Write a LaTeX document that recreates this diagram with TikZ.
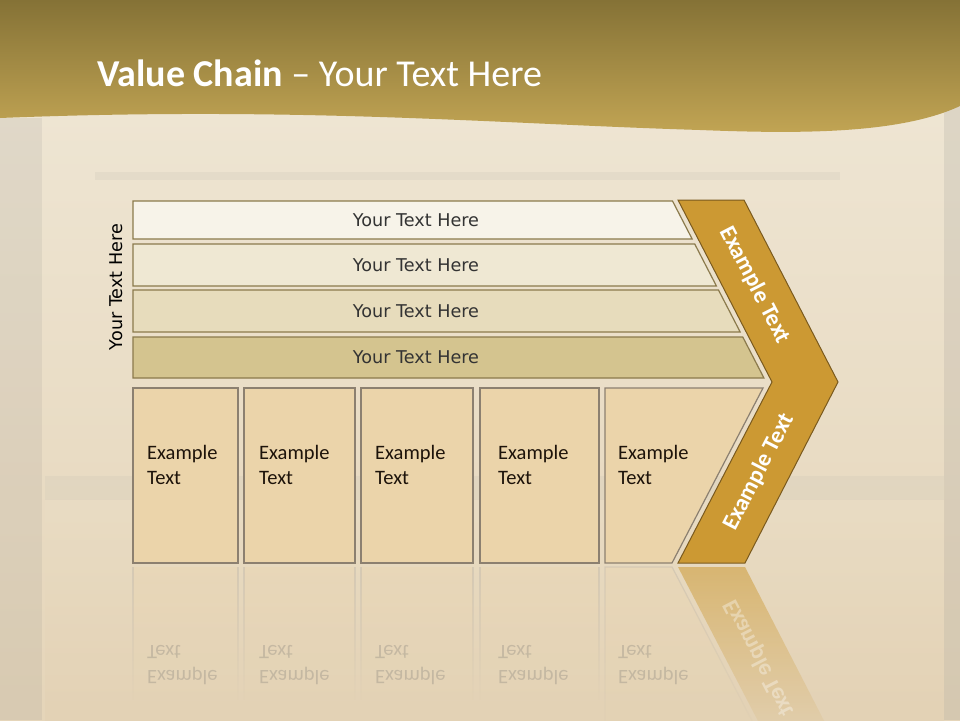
\documentclass[tikz,border=0pt]{standalone}
\usepackage{fontspec}
\setmainfont{Carlito}
\newfontfamily\barfont{DejaVu Sans}
\usetikzlibrary{fadings}

\definecolor{fons}{HTML}{E9DEC6}
\definecolor{bandaA}{HTML}{857236}
\definecolor{bandaB}{HTML}{C2A554}
\definecolor{barA}{HTML}{F7F3E9}
\definecolor{barB}{HTML}{EFE8D3}
\definecolor{barC}{HTML}{E7DCBC}
\definecolor{barD}{HTML}{D4C48F}
\definecolor{vora}{HTML}{8B7A4C}
\definecolor{caixa}{HTML}{EBD4AA}
\definecolor{voracaixa}{HTML}{8C8070}
\definecolor{daurat}{HTML}{CC9933}
\definecolor{voradaurat}{HTML}{7A5A1E}

\begin{document}
\begin{tikzpicture}[x=1pt, y=-1pt,
    bartext/.style={font=\barfont\fontsize{17.6}{21}\selectfont, text=black!80},
    boxtext/.style={anchor=west, align=left, inner sep=0, font=\fontsize{20.5}{25}\selectfont, text=black!85!brown},
    chevtext/.style={font=\bfseries\fontsize{23.5}{28}\selectfont, text=white}]
    \useasboundingbox (0,0) rectangle (960,720);
    \clip (0,0) rectangle (960,720);

    % Fons
    \shade[top color=fons!70!white, bottom color=fons!90!brown] (0,0) rectangle (960,720);
    \fill[gray, opacity=.12] (0,118) rectangle (42,720);
    \fill[gray, opacity=.15] (944,100) rectangle (960,720);
    \fill[gray, opacity=.08] (95,172) rectangle (840,180);
    \shade[top color=fons, bottom color=fons!85!brown, opacity=.5] (45,480) rectangle (944,720);
    \fill[gray, opacity=.06] (45,476) rectangle (944,500);

    % Banda del titol
    \shade[top color=bandaA, bottom color=bandaB] (0,0) -- (960,0) -- (960,106)
        .. controls (900,134) and (800,134) .. (700,130)
        .. controls (500,124) and (300,106) .. (0,118) -- cycle;
    \node[anchor=base west, text=white, inner sep=0, font=\fontsize{38}{45}\selectfont] (title) at (97,86)
        {\textbf{Value Chain} – Your Text Here};

    % Barres
    \foreach \t/\b/\c [count=\i] in {201/239/barA, 244/286/barB, 290/332/barC, 337/378/barD} {
        \draw[vora, line width=1.2pt, fill=\c] (133,\t) -- ({672+(\t-200)*0.5165},\t) -- ({672+(\b-200)*0.5165},\b) -- (133,\b) -- cycle;
        \node[bartext] (bar\i) at (416,{(\t+\b)/2}) {Your Text Here};
    }
    \node[bartext, rotate=90, text=black] (side) at (116,287) {Your Text Here};

    % Caixes
    \foreach \l/\r/\x [count=\i] in {133/238/147, 244/355/259, 361/473/375, 480/599/498} {
        \draw[voracaixa, line width=1.2pt, fill=caixa] (\l,388) rectangle (\r,563);
        \node[boxtext] (box\i) at (\x,465) {Example\\Text};
    }
    \draw[voracaixa, line width=1.2pt, fill=caixa] (605,388) -- (763,388) -- (672,563) -- (605,563) -- cycle;
    \node[boxtext] (box5) at (618,465) {Example\\Text};

    % Fletxa
    \draw[voradaurat, line width=1pt, fill=daurat] (678,200) -- (744,200) -- (838,382) -- (745,563) -- (678,563) -- (772,382) -- cycle;
    \node[chevtext, rotate=-62.7] (chevA) at (755,285) {Example Text};
    \node[chevtext, rotate=62.7] (chevB) at (759,472) {Example Text};

    % Reflex
    \foreach \l/\r in {133/238, 244/355, 361/473, 480/599} {
        \fill[caixa, path fading=south, opacity=.3] (\l,567) rectangle (\r,700);
        \draw[voracaixa!60, line width=1.2pt, path fading=south, opacity=.4] (\l,567) -- (\l,700) (\r,567) -- (\r,700);
    }
    \fill[caixa, path fading=south, opacity=.3] (605,567) -- (672,567) -- (763,742) -- (605,742) -- cycle;
    \draw[voracaixa!60, line width=1.2pt, path fading=south, opacity=.4] (605,742) -- (605,567) -- (672,567) -- (763,742);
    \fill[daurat, path fading=south, opacity=.55] (678,567) -- (745,567) -- (838,748) -- (772,748) -- cycle;
    \begin{scope}[shift={(0,1130)}, yscale=-1, transform shape]
        \foreach \x [count=\i] in {147, 259, 375, 498, 618}
            \node[boxtext, text=black!60, opacity=.25] (mirror\i) at (\x,465) {Example\\Text};
        \node[chevtext, rotate=62.7, opacity=.35] (mirrorchev) at (759,472) {Example Text};
    \end{scope}
\end{tikzpicture}
\end{document}
